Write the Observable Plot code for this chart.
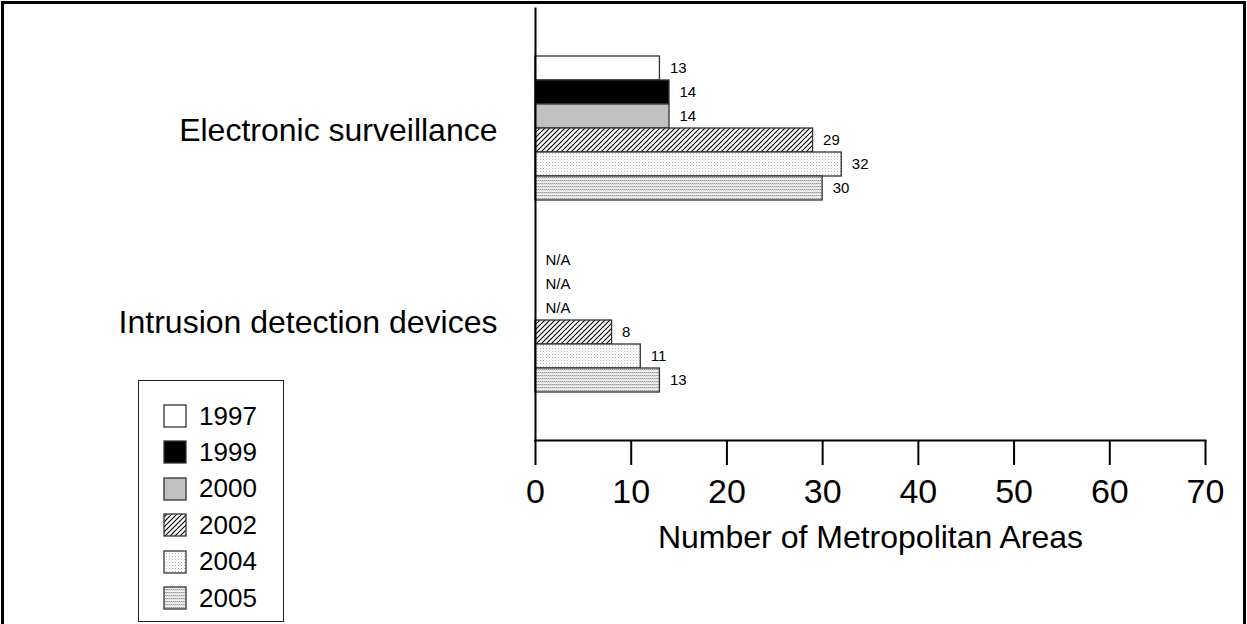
<!DOCTYPE html>
<html>
<head>
<meta charset="utf-8">
<script src="https://cdn.jsdelivr.net/npm/d3@7"></script>
<script src="https://cdn.jsdelivr.net/npm/@observablehq/plot@0.6"></script>
<style>
  html, body { margin: 0; padding: 0; background: #fff; }
  body { width: 1247px; height: 624px; position: relative; overflow: hidden; font-family: "Liberation Sans", Arial, sans-serif; }
  #border { position: absolute; left: 1px; top: 1px; width: 1245px; height: 640px; border: 3px solid #000; box-sizing: border-box; }
  #chart { position: absolute; left: 0; top: 0; }
  #legend { position: absolute; left: 138px; top: 380px; width: 146px; height: 242px; border: 1px solid #222; box-sizing: border-box; background: #fff; }
  .row { position: absolute; left: 24px; height: 24px; display: flex; align-items: center; font-size: 26px; color: #000; }
  .row svg { margin-right: 12px; }
</style>
</head>
<body>
<svg width="0" height="0" style="position:absolute">
  <defs>
    <pattern id="p2002" patternUnits="userSpaceOnUse" width="5" height="5">
      <rect width="5" height="5" fill="#fff"/>
      <path d="M-1,1 l2,-2 M0,5 l5,-5 M4,6 l2,-2" stroke="#000" stroke-width="1.1"/>
    </pattern>
    <pattern id="p2004" patternUnits="userSpaceOnUse" width="3" height="3">
      <rect width="3" height="3" fill="#fff"/>
      <rect x="0" y="0" width="1" height="1" fill="#b4b4b4"/>
      <rect x="1.5" y="1.5" width="1" height="1" fill="#d8d8d8"/>
    </pattern>
    <pattern id="p2005" patternUnits="userSpaceOnUse" width="2" height="3">
      <rect width="2" height="3" fill="#f0f0f0"/>
      <rect x="0" y="0" width="1" height="1" fill="#989898"/>
      <rect x="1" y="0" width="1" height="1" fill="#c8c8c8"/>
      <rect x="1" y="1" width="1" height="1" fill="#d4d4d4"/>
    </pattern>
  </defs>
</svg>
<div id="border"></div>
<div id="chart"></div>
<div id="legend"></div>
<script>
const categories = ["Electronic surveillance", "Intrusion detection devices"];
const years = ["1997", "1999", "2000", "2002", "2004", "2005"];
const electronicSurveillance = [13, 14, 14, 29, 32, 30];
const intrusionDetection = [null, null, null, 8, 11, 13];
const xTicks = [0, 10, 20, 30, 40, 50, 60, 70];
const yearFills = ["#ffffff", "#000000", "#c0c0c0", "url(#p2002)", "url(#p2004)", "url(#p2005)"];
const axisTitle = "Number of Metropolitan Areas";

const seriesByCategory = [electronicSurveillance, intrusionDetection];
const rows = categories.flatMap((c, i) =>
  years.map((y, j) => ({category: c, year: y, value: seriesByCategory[i][j]}))
);

const W = 1247, H = 590, MT = 8, MB = 150, ML = 535, MR = 42;
const PAD = 0.25;
// outer padding of the fy band scale: gap between the facets and the plot-area edges
const fyStep = (H - MT - MB) / (categories.length - PAD + 2 * PAD);
const outerGap = PAD * fyStep;

const chart = Plot.plot({
  width: W,
  height: H,
  marginLeft: ML,
  marginRight: MR,
  marginTop: MT,
  marginBottom: MB,
  style: {fontFamily: '"Liberation Sans", Arial, sans-serif', background: "transparent", color: "#000", overflow: "visible"},
  x: {domain: [0, 70], axis: null},
  y: {domain: years, padding: 0, axis: null},
  fy: {domain: categories, paddingInner: PAD, paddingOuter: PAD, axis: null},
  color: {type: "ordinal", domain: years, range: yearFills},
  marks: [
    Plot.barX(rows, {fy: "category", y: "year", x: "value", fill: "year", stroke: "#333", strokeWidth: 1.3}),
    Plot.text(rows, {
      fy: "category", y: "year",
      x: d => d.value ?? 0,
      text: d => d.value == null ? "N/A" : String(d.value),
      dx: 10, textAnchor: "start", fontSize: 15, fill: "#000"
    }),
    Plot.text(categories, {fy: d => d, text: d => d, frameAnchor: "left", dx: -38, dy: 2, textAnchor: "end", fontSize: 32, fill: "#000"}),
    Plot.frame({anchor: "left", facet: "super", insetTop: -outerGap, insetBottom: -outerGap, stroke: "#000", strokeWidth: 2}),
    Plot.frame({anchor: "bottom", facet: "super", insetBottom: -outerGap, stroke: "#000", strokeWidth: 2}),
    Plot.axisX({anchor: "bottom", dy: outerGap, ticks: xTicks, tickSize: 25, tickPadding: 13, tickFormat: d => String(d), fontSize: 34, strokeWidth: 2, stroke: "#000", label: null}),
    Plot.text([axisTitle], {facet: "super", frameAnchor: "bottom", dy: outerGap + 107, fontSize: 32, fill: "#000"})
  ]
});
document.getElementById("chart").appendChild(chart);

// legend
const legend = document.getElementById("legend");
years.forEach((y, i) => {
  const row = document.createElement("div");
  row.className = "row";
  row.style.top = (23 + i * 36.4) + "px";
  row.innerHTML = `<svg width="24" height="24"><rect x="1" y="1" width="22" height="22" fill="${yearFills[i]}" stroke="#333" stroke-width="1.3"/></svg><span>${y}</span>`;
  legend.appendChild(row);
});
</script>
</body>
</html>
